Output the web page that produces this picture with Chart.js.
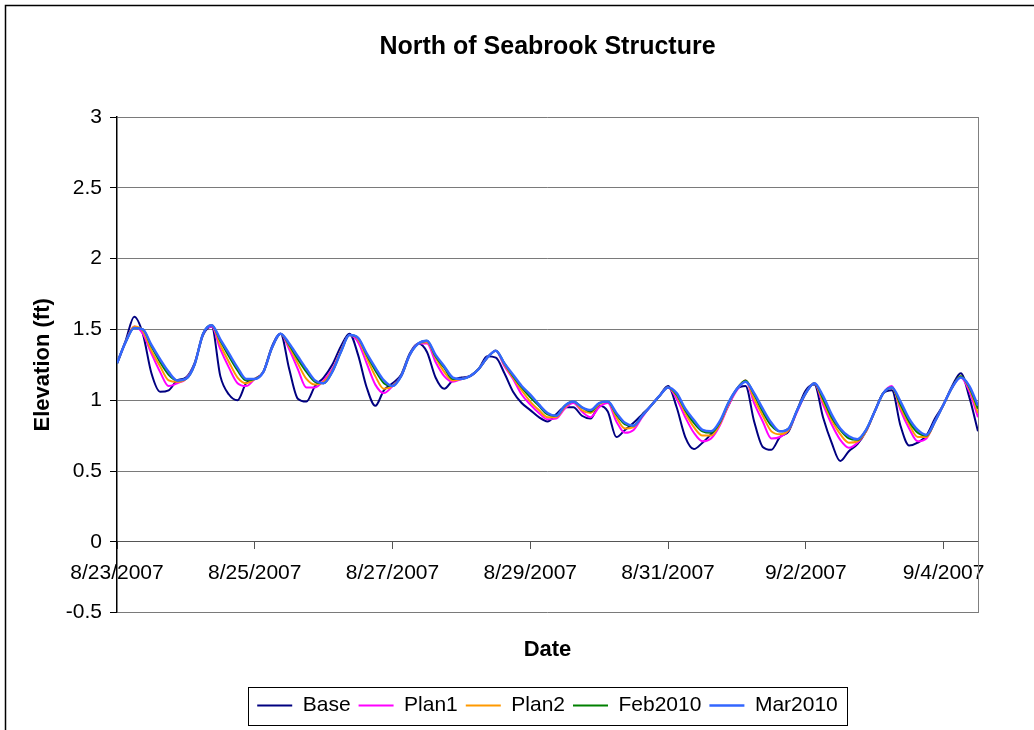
<!DOCTYPE html>
<html>
<head>
<meta charset="utf-8">
<script src="https://cdn.jsdelivr.net/npm/chart.js@4.4.1/dist/chart.umd.min.js"></script>
<style>
html,body{margin:0;padding:0;background:#fff;}
#wrap{width:1034px;height:730px;}
</style>
</head>
<body>
<div id="wrap"><canvas id="c" width="1034" height="730"></canvas></div>
<script>
const chartTitle = 'North of Seabrook Structure';
const xTitle = 'Date';
const yTitle = 'Elevation (ft)';
const seriesNames = ['Base', 'Plan1', 'Plan2', 'Feb2010', 'Mar2010'];
const tickLabels = ['8/23/2007', '8/25/2007', '8/27/2007', '8/29/2007', '8/31/2007', '9/2/2007', '9/4/2007'];
const sampleHours = 3; // readings every 3 hours from 8/23/2007 00:00

const base = [1.26,1.42,1.59,1.47,1.19,1.06,1.07,1.14,1.16,1.26,
1.46,1.52,1.17,1.04,1.00,1.12,1.15,1.20,1.38,1.47,
1.22,1.01,0.99,1.10,1.16,1.25,1.38,1.47,1.32,1.09,
0.96,1.07,1.12,1.18,1.33,1.40,1.34,1.16,1.08,1.14,
1.16,1.17,1.22,1.31,1.30,1.19,1.06,0.98,0.93,0.88,
0.85,0.90,0.95,0.95,0.89,0.87,0.96,0.92,0.74,0.79,
0.84,0.90,0.96,1.03,1.10,0.95,0.74,0.655,0.70,0.76,
0.84,0.96,1.08,1.10,0.85,0.67,0.65,0.74,0.78,0.93,
1.07,1.11,0.88,0.70,0.57,0.64,0.69,0.78,0.92,1.05,
1.07,0.82,0.68,0.70,0.75,0.87,0.97,1.10,1.19,1.02,
0.78];

const plan1 = [1.26,1.41,1.52,1.47,1.33,1.20,1.10,1.12,1.15,1.25,
1.47,1.52,1.36,1.23,1.12,1.10,1.15,1.20,1.37,1.47,
1.36,1.22,1.09,1.09,1.14,1.22,1.35,1.46,1.41,1.26,
1.11,1.05,1.10,1.17,1.32,1.40,1.40,1.27,1.17,1.13,
1.15,1.17,1.22,1.30,1.35,1.24,1.15,1.04,0.97,0.91,
0.865,0.87,0.94,0.98,0.92,0.88,0.95,0.98,0.85,0.77,
0.79,0.88,0.96,1.03,1.09,1.01,0.88,0.77,0.71,0.73,
0.82,0.96,1.07,1.14,0.98,0.85,0.73,0.74,0.79,0.92,
1.05,1.12,0.97,0.83,0.72,0.665,0.70,0.78,0.92,1.05,
1.10,0.93,0.80,0.71,0.73,0.85,0.97,1.09,1.16,1.06,
0.88];

const plan2 = [1.26,1.41,1.52,1.49,1.35,1.24,1.14,1.13,1.15,1.25,
1.47,1.53,1.39,1.27,1.16,1.12,1.15,1.20,1.37,1.47,
1.38,1.26,1.15,1.11,1.13,1.21,1.35,1.46,1.43,1.30,
1.17,1.08,1.10,1.17,1.32,1.40,1.41,1.30,1.20,1.14,
1.15,1.17,1.22,1.30,1.35,1.25,1.16,1.07,0.99,0.93,
0.88,0.88,0.95,0.99,0.93,0.91,0.97,0.99,0.88,0.80,
0.81,0.89,0.96,1.03,1.09,1.03,0.91,0.81,0.75,0.75,
0.83,0.97,1.08,1.14,1.01,0.89,0.78,0.76,0.79,0.93,
1.05,1.12,0.99,0.86,0.76,0.70,0.71,0.78,0.92,1.05,
1.09,0.95,0.83,0.74,0.74,0.85,0.97,1.09,1.17,1.08,
0.91];

const feb2010 = [1.26,1.41,1.51,1.50,1.38,1.27,1.18,1.14,1.15,1.25,
1.47,1.53,1.42,1.31,1.21,1.14,1.15,1.20,1.37,1.47,
1.39,1.29,1.20,1.13,1.12,1.20,1.34,1.46,1.44,1.32,
1.21,1.12,1.10,1.17,1.32,1.40,1.42,1.31,1.23,1.15,
1.15,1.17,1.22,1.30,1.35,1.26,1.17,1.09,1.02,0.96,
0.90,0.89,0.96,0.99,0.95,0.92,0.98,0.99,0.90,0.83,
0.82,0.89,0.96,1.03,1.09,1.04,0.93,0.84,0.78,0.77,
0.84,0.98,1.08,1.14,1.04,0.92,0.82,0.78,0.80,0.93,
1.05,1.12,1.01,0.88,0.79,0.73,0.72,0.79,0.92,1.05,
1.09,0.97,0.85,0.77,0.75,0.85,0.97,1.09,1.17,1.09,
0.94];

const mar2010 = [1.26,1.41,1.51,1.50,1.39,1.29,1.20,1.14,1.15,1.25,
1.47,1.53,1.43,1.33,1.23,1.15,1.15,1.20,1.37,1.47,
1.40,1.31,1.22,1.14,1.12,1.20,1.34,1.46,1.44,1.33,
1.23,1.14,1.10,1.17,1.32,1.40,1.42,1.32,1.24,1.16,
1.15,1.17,1.22,1.30,1.35,1.26,1.18,1.10,1.04,0.97,
0.91,0.89,0.96,0.99,0.95,0.93,0.98,0.99,0.91,0.84,
0.82,0.89,0.96,1.03,1.09,1.05,0.94,0.86,0.79,0.78,
0.85,0.98,1.08,1.13,1.05,0.94,0.84,0.78,0.80,0.93,
1.05,1.12,1.03,0.90,0.80,0.745,0.725,0.79,0.92,1.05,
1.09,0.99,0.87,0.79,0.755,0.85,0.97,1.09,1.16,1.10,
0.96];

const seriesValues = [base, plan1, plan2, feb2010, mar2010];
const seriesColors = ['#000080', '#FF00FF', '#FF9900', '#008000', '#3366FF'];
const seriesWidths = [2, 2, 2, 2, 2.5];

const FAMILY = "'Liberation Sans', Arial, sans-serif";

function toPoints(arr) {
  return arr.map((v, i) => ({ x: i * sampleHours / 24, y: v }));
}

const datasets = seriesNames.map((name, k) => ({
  label: name,
  data: toPoints(seriesValues[k]),
  borderColor: seriesColors[k],
  backgroundColor: seriesColors[k],
  borderWidth: seriesWidths[k],
  pointRadius: 0,
  fill: false,
  cubicInterpolationMode: 'monotone',
  order: seriesNames.length - k
}));

const framePlugin = {
  id: 'frame',
  beforeDraw(chart) {
    const ctx = chart.ctx;
    ctx.save();
    ctx.fillStyle = '#ffffff';
    ctx.fillRect(0, 0, chart.width, chart.height);
    ctx.restore();
  },
  afterDraw(chart) {
    const ctx = chart.ctx;
    ctx.save();
    ctx.strokeStyle = '#000';
    ctx.lineWidth = 1.5;
    ctx.strokeRect(5.5, 5.5, chart.width + 40, chart.height + 40);
    const lg = chart.legend;
    if (lg && lg.legendHitBoxes && lg.legendHitBoxes.length) {
      let l = Infinity, r = -Infinity;
      lg.legendHitBoxes.forEach(h => { l = Math.min(l, h.left); r = Math.max(r, h.left + h.width); });
      ctx.lineWidth = 1;
      ctx.strokeStyle = '#000';
      ctx.strokeRect(Math.round(l - 9) + 0.5, Math.round(lg.top) + 0.5, Math.round(r - l + 18), Math.round(lg.height) - 1);
    }
    ctx.restore();
  }
};

new Chart(document.getElementById('c'), {
  type: 'line',
  data: { datasets },
  plugins: [framePlugin],
  options: {
    responsive: false,
    animation: false,
    devicePixelRatio: 1,
    layout: { padding: { left: 5, top: 5, right: 0, bottom: 4 } },
    plugins: {
      title: {
        display: true, text: chartTitle, color: '#000',
        fullSize: false,
        font: { size: 25, weight: 'bold', family: FAMILY },
        padding: { top: 27, bottom: 55 }
      },
      legend: {
        position: 'bottom',
        fullSize: false,
        labels: {
          color: '#000',
          font: { size: 21, family: FAMILY },
          usePointStyle: true,
          pointStyle: 'line',
          pointStyleWidth: 35,
          padding: 8,
          sort: (a, b) => a.datasetIndex - b.datasetIndex
        }
      },
      tooltip: { enabled: false }
    },
    scales: {
      x: {
        type: 'linear',
        position: { y: 0 },
        min: 0, max: 12.5,
        ticks: {
          stepSize: 2, includeBounds: false, autoSkip: false, maxRotation: 0,
          padding: 12, color: '#000', font: { size: 21, family: FAMILY },
          callback: v => tickLabels[Math.round(v / 2)]
        },
        grid: { drawOnChartArea: false, drawTicks: true, tickLength: 7, tickColor: '#555' },
        border: { color: '#555', width: 1 }
      },
      xDate: {
        type: 'linear', axis: 'x', position: 'bottom', display: true,
        min: 0, max: 12.5,
        ticks: { display: false },
        grid: { display: false, drawTicks: false },
        border: { display: false },
        title: {
          display: true, text: xTitle, color: '#000',
          font: { size: 22, weight: 'bold', family: FAMILY },
          padding: { top: 24, bottom: 24 }
        }
      },
      y: {
        position: 'left',
        min: -0.5, max: 3,
        ticks: {
          stepSize: 0.5, padding: 8, color: '#000', font: { size: 21, family: FAMILY },
          callback: v => String(Number(Number(v).toFixed(2)))
        },
        grid: { color: '#7a7a7a', tickLength: 7, tickColor: '#000' },
        border: { color: '#000', width: 1.5 },
        title: {
          display: true, text: yTitle, color: '#000',
          font: { size: 22, weight: 'bold', family: FAMILY },
          padding: { top: 25, bottom: 0 }
        },
        afterFit: s => { s.width = 112; }
      },
      yR: {
        position: 'right',
        min: -0.5, max: 3,
        ticks: { display: false },
        grid: { display: false, drawTicks: false },
        border: { display: true, color: '#808080', width: 1 },
        afterFit: s => { s.width = 56; }
      }
    }
  }
});
</script>
</body>
</html>
